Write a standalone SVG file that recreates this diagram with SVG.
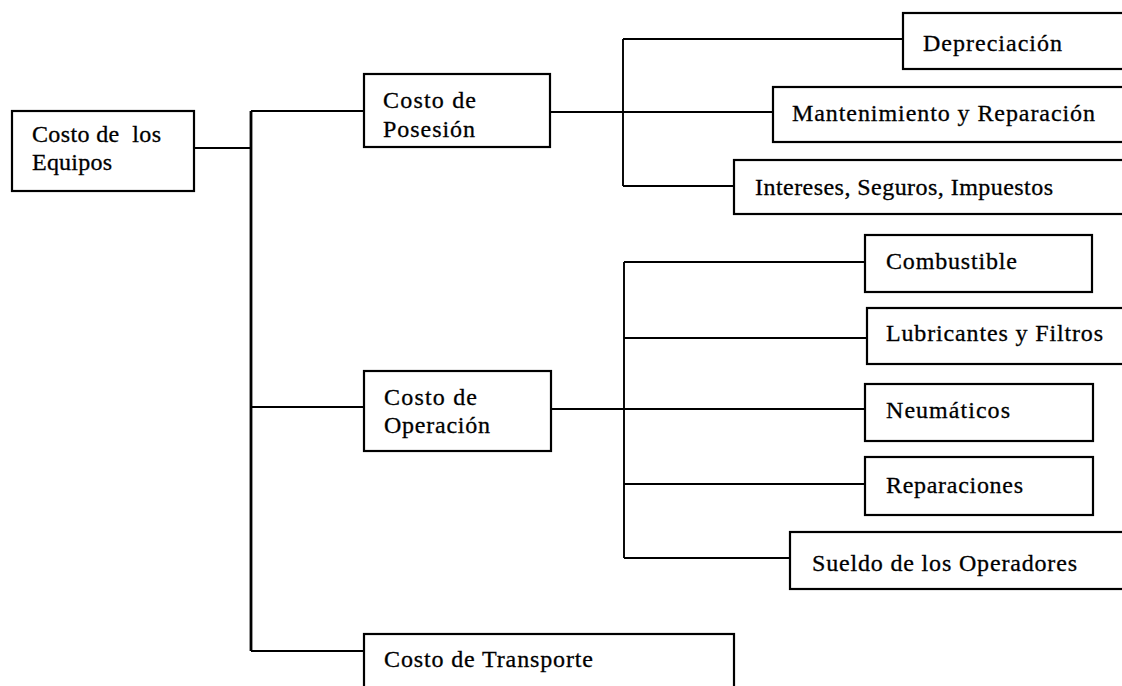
<svg xmlns="http://www.w3.org/2000/svg" width="1122" height="686" viewBox="0 0 1122 686">
  <style>
    .box { fill: #ffffff; stroke: #000000; stroke-width: 2.2; }
    .wire { fill: none; stroke: #000000; stroke-width: 1.9; }
    .trunk { fill: none; stroke: #000000; stroke-width: 2.8; }
    text { font-family: "Liberation Serif", "Times New Roman", serif; font-size: 24px; fill: #000000; stroke: #000000; stroke-width: 0.3; }
  </style>
  <rect width="1122" height="686" fill="#ffffff"/>

  <!-- connectors -->
  <g id="connectors">
    <!-- root to trunk -->
    <path class="wire" d="M194,148 H251"/>
    <path class="trunk" d="M251,111 V651"/>
    <path class="wire" d="M251,111 H364 M251,407 H364 M251,651 H364"/>
    <!-- posesión branch -->
    <path class="wire" d="M550,112 H773"/>
    <path class="wire" d="M623,39 V186 M623,39 H903 M623,186 H734"/>
    <!-- operación branch -->
    <path class="wire" d="M551,409 H865"/>
    <path class="wire" d="M624,262 V558 M624,262 H865 M624,338 H867 M624,484 H865 M624,558 H790"/>
  </g>

  <g id="root">
    <rect class="box" x="12" y="111" width="182" height="80"/>
    <text x="32" y="142" textLength="129" lengthAdjust="spacing" xml:space="preserve">Costo de  los</text>
    <text x="32" y="170" textLength="80" lengthAdjust="spacing">Equipos</text>
  </g>

  <g id="posesion">
    <rect class="box" x="364" y="74" width="186" height="73"/>
    <text x="383" y="108" textLength="93" lengthAdjust="spacing">Costo de</text>
    <text x="383" y="137" textLength="92" lengthAdjust="spacing">Posesión</text>
  </g>

  <g id="operacion">
    <rect class="box" x="364" y="371" width="187" height="80"/>
    <text x="384" y="405" textLength="93" lengthAdjust="spacing">Costo de</text>
    <text x="384" y="433" textLength="106" lengthAdjust="spacing">Operación</text>
  </g>

  <g id="transporte">
    <rect class="box" x="364" y="634" width="370" height="70"/>
    <text x="384" y="667" textLength="209" lengthAdjust="spacing">Costo de Transporte</text>
  </g>

  <g id="depreciacion">
    <rect class="box" x="903" y="13" width="240" height="56"/>
    <text x="923" y="51" textLength="139" lengthAdjust="spacing">Depreciación</text>
  </g>

  <g id="mantenimiento">
    <rect class="box" x="773" y="87" width="370" height="55"/>
    <text x="792" y="121" textLength="303" lengthAdjust="spacing">Mantenimiento y Reparación</text>
  </g>

  <g id="intereses">
    <rect class="box" x="734" y="160" width="409" height="54"/>
    <text x="755" y="195" textLength="298" lengthAdjust="spacing">Intereses, Seguros, Impuestos</text>
  </g>

  <g id="combustible">
    <rect class="box" x="865" y="235" width="227" height="57"/>
    <text x="886" y="269" textLength="131" lengthAdjust="spacing">Combustible</text>
  </g>

  <g id="lubricantes">
    <rect class="box" x="867" y="308" width="276" height="56"/>
    <text x="886" y="341" textLength="217" lengthAdjust="spacing">Lubricantes y Filtros</text>
  </g>

  <g id="neumaticos">
    <rect class="box" x="865" y="384" width="228" height="57"/>
    <text x="886" y="418" textLength="124" lengthAdjust="spacing">Neumáticos</text>
  </g>

  <g id="reparaciones">
    <rect class="box" x="865" y="457" width="228" height="58"/>
    <text x="886" y="493" textLength="137" lengthAdjust="spacing">Reparaciones</text>
  </g>

  <g id="sueldo">
    <rect class="box" x="790" y="532" width="353" height="57"/>
    <text x="812" y="571" textLength="265" lengthAdjust="spacing">Sueldo de los Operadores</text>
  </g>
</svg>
